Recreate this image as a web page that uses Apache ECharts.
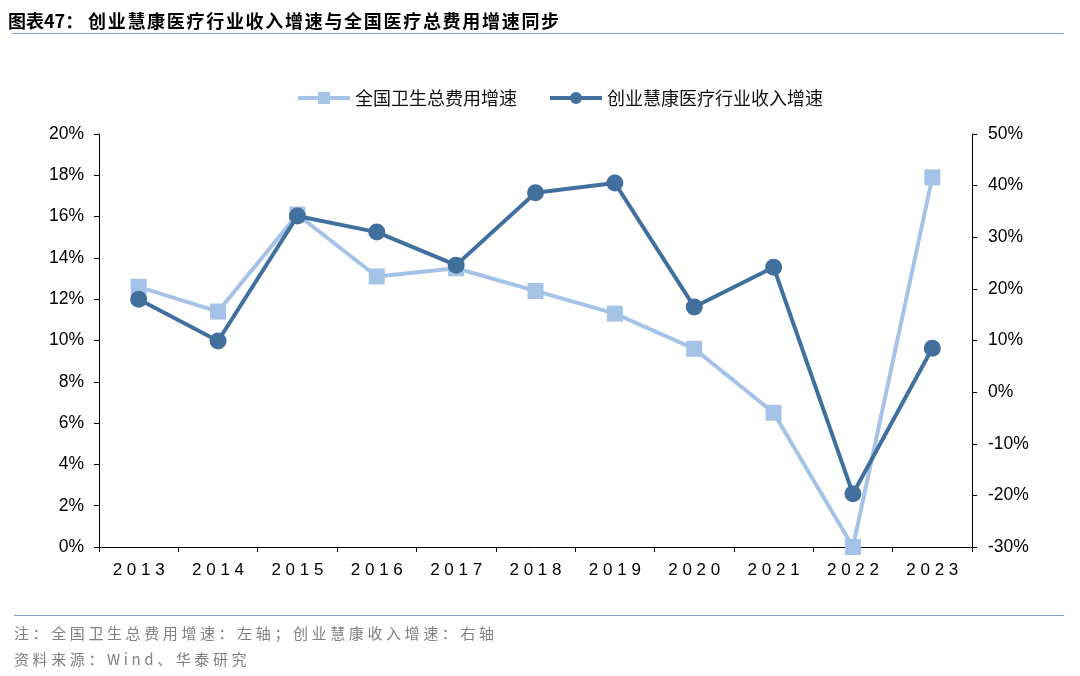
<!DOCTYPE html>
<html><head><meta charset="utf-8">
<script src="https://cdn.jsdelivr.net/npm/echarts@6/dist/echarts.min.js"></script>
<style>
html,body{margin:0;padding:0;background:#fff;}
#wrap{position:relative;width:1080px;height:676px;font-family:"Noto Sans CJK SC",sans-serif;}
.title{position:absolute;top:7px;font-size:18px;font-weight:bold;color:#000;white-space:nowrap;}
#tline{position:absolute;left:12px;top:33px;width:1052px;height:1px;background:#7f9fc9;}
#fline{position:absolute;left:14px;top:615px;width:1050px;height:1px;background:#7f9fc9;}
.foot{position:absolute;left:14px;font-size:15px;color:#808080;letter-spacing:3.6px;white-space:nowrap;}
#chart{position:absolute;left:0;top:0;width:1080px;height:676px;}
</style></head>
<body><div id="wrap">
<div id="chart"></div>
<div class="title" style="left:8px">图表47：</div>
<div class="title" style="left:88px;letter-spacing:1.7px">创业慧康医疗行业收入增速与全国医疗总费用增速同步</div>
<div id="tline"></div>
<div id="fline"></div>
<div class="foot" style="top:622px">注：全国卫生总费用增速：左轴；创业慧康收入增速：右轴</div>
<div class="foot" style="top:648px">资料来源：Wind、华泰研究</div>
</div>
<script>
const categories = ['2013','2014','2015','2016','2017','2018','2019','2020','2021','2022','2023'];
const healthSpendGrowth = [12.6, 11.4, 16.1, 13.1, 13.5, 12.4, 11.3, 9.6, 6.5, 0.0, 17.9];
const revenueGrowth = [18.0, 9.9, 34.1, 31.0, 24.6, 38.6, 40.5, 16.5, 24.2, -19.7, 8.5];
const seriesNames = ['全国卫生总费用增速', '创业慧康医疗行业收入增速'];

const chart = echarts.init(document.getElementById('chart'));
const axisLine = {show:true, lineStyle:{color:'#000', width:1}};
const lbl = {color:'#000', fontSize:17.5, fontFamily:'"Liberation Sans", Arial, sans-serif'};
chart.setOption({
  animation:false,
  legend:{
    top:84, left:291, itemWidth:52, itemHeight:15, itemGap:31,
    lineStyle:{width:4},
    textStyle:{fontSize:18, color:'#111', fontFamily:'"Noto Sans CJK SC", sans-serif'},
    data:seriesNames
  },
  grid:{left:99, right:108, top:134, bottom:129},
  xAxis:{
    type:'category', data:categories, boundaryGap:true,
    axisLine:axisLine,
    axisTick:{show:true, length:5, inside:false, lineStyle:{color:'#000'}},
    axisLabel:Object.assign({}, lbl, {fontSize:17, margin:15, formatter:v=>v.split('').join(' ')})
  },
  yAxis:[
    {type:'value', min:0, max:20, interval:2, position:'left',
     axisLine:axisLine, axisTick:{show:true, length:5, lineStyle:{color:'#000'}},
     splitLine:{show:false},
     axisLabel:Object.assign({}, lbl, {margin:15, formatter:v=>v+'%'})},
    {type:'value', min:-30, max:50, interval:10, position:'right',
     axisLine:axisLine, axisTick:{show:true, length:5, lineStyle:{color:'#000'}},
     splitLine:{show:false},
     axisLabel:Object.assign({}, lbl, {margin:16, formatter:v=>v+'%'})}
  ],
  series:[
    {name:seriesNames[0], type:'line', yAxisIndex:0, data:healthSpendGrowth,
     symbol:'rect', symbolSize:16, lineStyle:{width:4, color:'#a5c3e6'},
     itemStyle:{color:'#a5c3e6'}, z:2},
    {name:seriesNames[1], type:'line', yAxisIndex:1, data:revenueGrowth,
     symbol:'circle', symbolSize:17, lineStyle:{width:4, color:'#41709e'},
     itemStyle:{color:'#41709e'}, z:3}
  ]
});
</script>
</body></html>
